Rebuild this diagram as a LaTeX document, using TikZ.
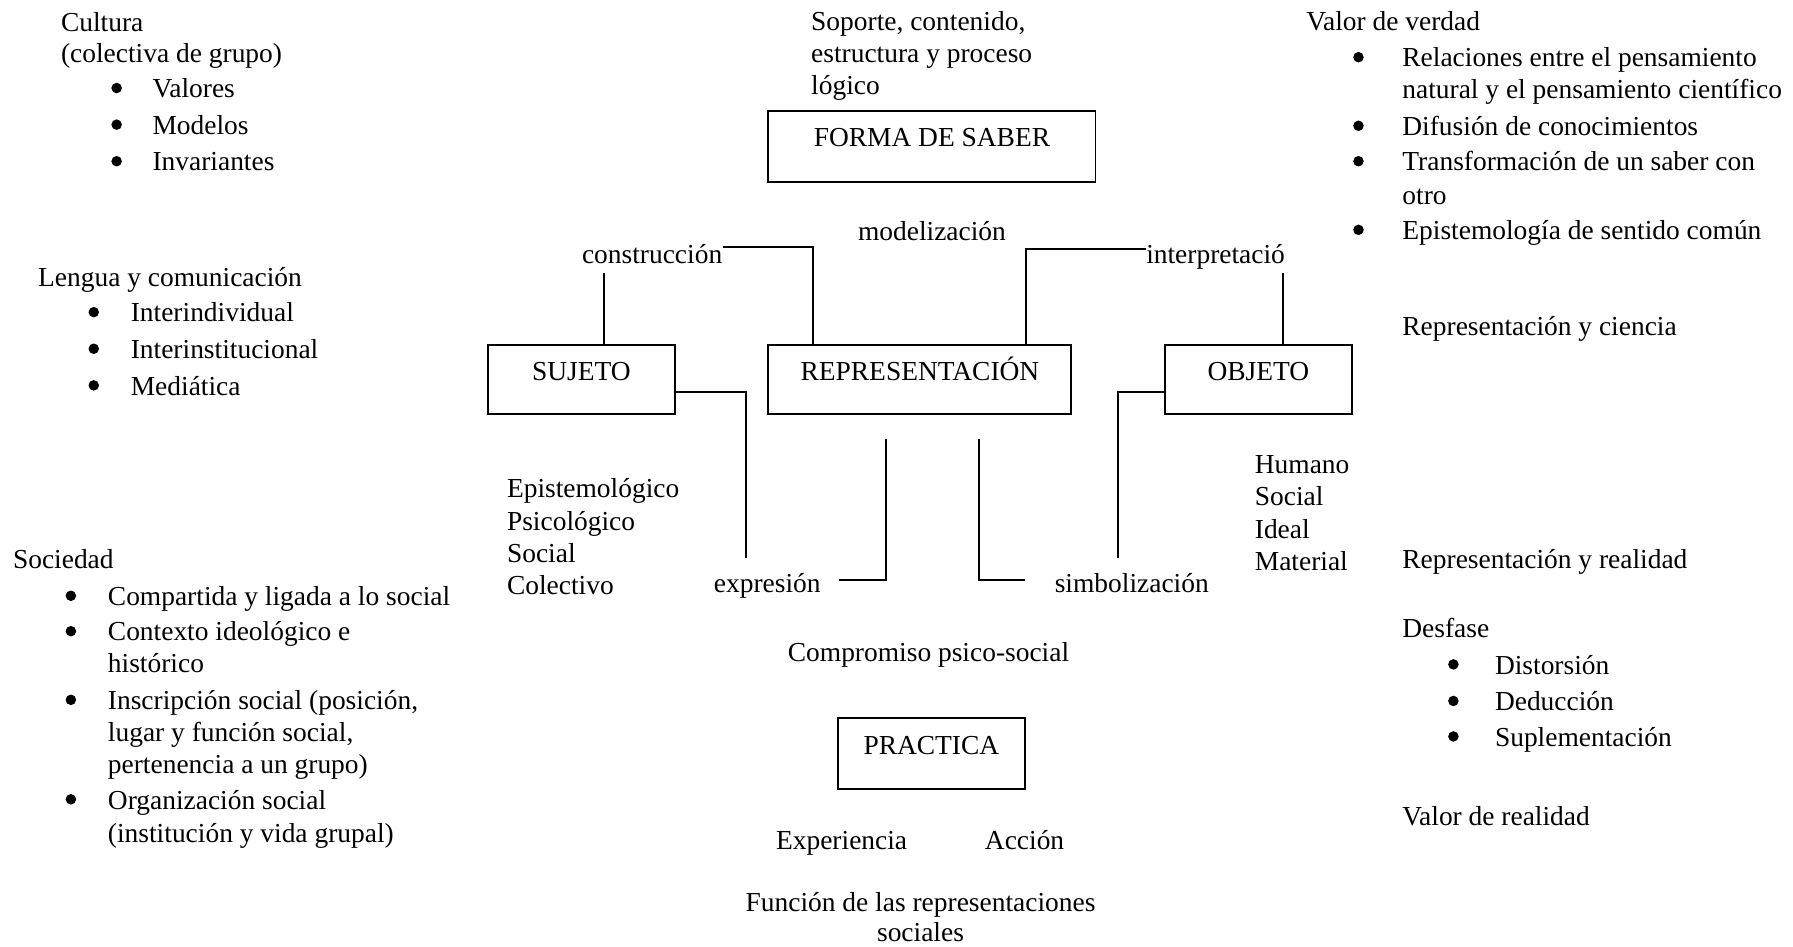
\documentclass[tikz,border=0pt]{standalone}
\usepackage{fontspec}
\setmainfont{Liberation Serif}
\usetikzlibrary{positioning,calc}
\tikzset{>=latex}
\tikzset{
  txt/.style={inner sep=0pt,anchor=west,text height=10.5pt,text depth=2pt},
  ctxt/.style={txt,anchor=center},
  caja/.style={draw,line width=0.85pt,inner sep=0pt,text height=8pt,text depth=7.5pt},
  bul/.style={circle,fill,inner sep=0pt,minimum size=4.6pt},
  linea/.style={line width=0.85pt}
}

\begin{document}
\begin{tikzpicture}[x=0.5pt,y=-0.5pt,font=\fontsize{12}{14}\selectfont]
    \useasboundingbox (0,0) rectangle (1568,828);

    % cajas
    \node[caja,minimum width=143pt,minimum height=31pt] (forma) at (815,128) {FORMA DE SABER};
    \node[caja,minimum width=81.5pt,minimum height=30pt] (sujeto) at (508.5,332) {SUJETO};
    \node[caja,minimum width=132.5pt,minimum height=30pt] (repr) at (804.5,332) {REPRESENTACIÓN};
    \node[caja,minimum width=81.5pt,minimum height=30pt] (objeto) at (1100.5,332) {OBJETO};
    \node[caja,minimum width=81.5pt,minimum height=31pt] (practica) at (814.5,659) {PRACTICA};

    % relaciones
    \node[txt,anchor=east] (constr) at (632,222) {construcción};
    \node[ctxt] (model) at (815,202) {modelización};
    \node[txt] (interp) at (1002,222) {interpretació};
    \node[txt,anchor=east] (expr) at (718,510) {expresión};
    \node[txt] (simb) at (922,510) {simbolización};
    \coordinate (sujFin) at (652,488);
    \coordinate (objFin) at (978,488);

    \draw[linea] ($(constr.east)+(0,-6)$) -| ($(repr.north west)+(40,0)$);
    \draw[linea] ($(repr.north east)+(-41,0)$) |- ($(interp.west)+(0,-4)$);
    \draw[linea] ($(sujeto.north)+(19.5,0)$) -- ++(0,-62);
    \draw[linea] ($(objeto.north)+(21.5,0)$) -- ++(0,-62);
    \draw[linea] ($(sujeto.east)+(0,11)$) -| (sujFin);
    \draw[linea] ($(objeto.west)+(0,11)$) -| (objFin);
    \draw[linea] ($(repr.south)+(-29.5,21)$) |- ($(expr.east)+(16,-3)$);
    \draw[linea] ($(repr.south)+(51.5,21)$) |- ($(simb.west)+(-26,-3)$);

    % centro
    \foreach \y/\t [count=\i] in {18/{Soporte, contenido,},46/estructura y proceso,74/lógico}
      \node[txt] (sop-\i) at (709,\y) {\t};
    \foreach \y/\t [count=\i] in {427/Epistemológico,455/Psicológico,483/Social,511/Colectivo}
      \node[txt] (suj-\i) at (443,\y) {\t};
    \foreach \y/\t [count=\i] in {406/Humano,434/Social,462/Ideal,490/Material}
      \node[txt] (obj-\i) at (1097,\y) {\t};
    \node[ctxt] (comp) at (812,570) {Compromiso psico-social};
    \node[ctxt] (experi) at (736,734) {Experiencia};
    \node[ctxt] (accion) at (896,734) {Acción};
    \node[ctxt] (func-1) at (805,789) {Función de las representaciones};
    \node[ctxt] (func-2) at (805,815) {sociales};

    % columna izquierda
    \node[txt] (cult-1) at (53,19) {Cultura};
    \node[txt] (cult-2) at (53,46) {(colectiva de grupo)};
    \foreach \y/\t [count=\i] in {77/Valores,109/Modelos,141/Invariantes} {
      \node[bul] (cult-b\i) at (102,\y) {};
      \node[txt] (cult-t\i) at (133,\y) {\t};
    }
    \node[txt] (leng) at (33,242) {Lengua y comunicación};
    \foreach \y/\t [count=\i] in {273/Interindividual,305/Interinstitucional,337/Mediática} {
      \node[bul] (leng-b\i) at (82,\y) {};
      \node[txt] (leng-t\i) at (114,\y) {\t};
    }
    \node[txt] (soc) at (11,489) {Sociedad};
    \foreach \y [count=\i] in {521,552,612,699}
      \node[bul] (soc-b\i) at (62,\y) {};
    \foreach \y/\t [count=\i] in {521/Compartida y ligada a lo social,552/Contexto ideológico e,580/histórico,
        612/{Inscripción social (posición,},640/{lugar y función social,},668/{pertenencia a un grupo)},
        699/Organización social,728/{(institución y vida grupal)}}
      \node[txt] (soc-t\i) at (94,\y) {\t};

    % columna derecha
    \node[txt] (verdad) at (1142,18) {Valor de verdad};
    \foreach \y [count=\i] in {50,110,141,201}
      \node[bul] (ver-b\i) at (1188,\y) {};
    \foreach \y/\t [count=\i] in {50/Relaciones entre el pensamiento,78/natural y el pensamiento científico,
        110/Difusión de conocimientos,141/Transformación de un saber con,170/otro,
        201/Epistemología de sentido común}
      \node[txt] (ver-t\i) at (1226,\y) {\t};
    \node[txt] (ciencia) at (1226,285) {Representación y ciencia};
    \node[txt] (realidad) at (1226,489) {Representación y realidad};
    \node[txt] (desfase) at (1226,549) {Desfase};
    \foreach \y/\t [count=\i] in {581/Distorsión,613/Deducción,644/Suplementación} {
      \node[bul] (des-b\i) at (1271,\y) {};
      \node[txt] (des-t\i) at (1307,\y) {\t};
    }
    \node[txt] (valreal) at (1226,713) {Valor de realidad};
  \end{tikzpicture}
\end{document}
